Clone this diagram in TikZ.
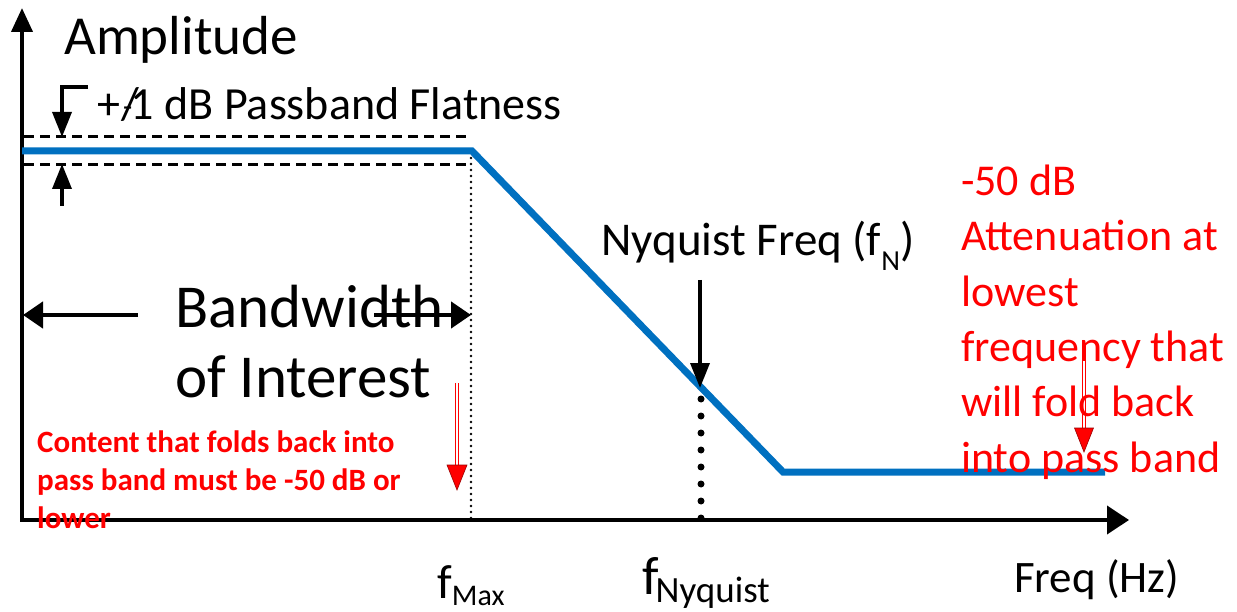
\documentclass[tikz,border=0pt]{standalone}
\usepackage{fontspec}
\setmainfont{Carlito}
\usetikzlibrary{arrows.meta}
\definecolor{curveblue}{HTML}{0070C0}
\definecolor{redtxt}{HTML}{FF0000}
\newcommand{\fsz}[2]{\fontsize{#1}{#2}\selectfont}
\begin{document}
\begin{tikzpicture}[x=1pt,y=-1pt,
  axisline/.style={line width=4pt, line join=miter,
     {Triangle[length=24pt,width=21pt]}-{Triangle[length=22pt,width=28pt]}},
  curve/.style={line width=7pt, curveblue, line join=miter},
  dashline/.style={line width=3pt, dash pattern=on 10pt off 6pt},
  thindots/.style={line width=2.6pt, line cap=round, dash pattern=on 0pt off 6pt},
  bigdots/.style={line width=7pt, line cap=round, dash pattern=on 0pt off 17pt},
  bwarrow/.style={line width=4.5pt, -{Triangle[length=20pt,width=26pt]}},
  smallarrow/.style={line width=3.5pt, line join=miter, -{Triangle[length=25pt,width=19pt]}},
  lbl/.style={inner sep=0pt, anchor=base west},
  redshaft/.style={line width=4.5pt, redtxt},
  redinner/.style={line width=1.2pt, white},
  redhead/.style={fill=redtxt, draw=red!60!black, line width=0.6pt},
]
\useasboundingbox (0,0) rectangle (1237,612);

% axes
\coordinate (ytop) at (22,8);
\coordinate (O) at (22,520);
\coordinate (xend) at (1129,520);
\draw[axisline] (ytop) -- (O) -- (xend);

% passband flatness dashed limits
\coordinate (dU0) at (24,137); \coordinate (dU1) at (471,137);
\coordinate (dL0) at (24,165); \coordinate (dL1) at (471,165);
\draw[dashline] (dU0) -- (dU1);
\draw[dashline] (dL0) -- (dL1);

% fmax dotted line
\coordinate (fm0) at (471,152); \coordinate (fm1) at (471,520);
\draw[thindots] (fm0) -- (fm1);

% filter response
\coordinate (c0) at (22,151);
\coordinate (c1) at (472,151);
\coordinate (c2) at (783,472);
\coordinate (c3) at (1105,472);
\draw[curve] (c0) -- (c1) -- (c2) -- (c3);

% flatness arrows
\coordinate (g0) at (88,87); \coordinate (g1) at (62,87); \coordinate (g2) at (62,137);
\draw[smallarrow] (g0) -- (g1) -- (g2);
\coordinate (u0) at (62,206); \coordinate (u1) at (62,164);
\draw[smallarrow] (u0) -- (u1);

% bandwidth arrows
\coordinate (bl0) at (138,315); \coordinate (bl1) at (23,315);
\coordinate (br0) at (374,315); \coordinate (br1) at (471,315);
\draw[bwarrow] (bl0) -- (bl1);
\draw[bwarrow] (br0) -- (br1);

% nyquist arrow and dotted line
\coordinate (n0) at (700,280); \coordinate (n1) at (700,388);
\draw[smallarrow] (n0) -- (n1);
\coordinate (nd0) at (701,399); \coordinate (nd1) at (701,520);
\draw[bigdots] (nd0) -- (nd1);

% red arrows
\coordinate (ra0) at (457,383); \coordinate (ra1) at (457,467);
\draw[redshaft] (ra0) -- (ra1);
\draw[redinner] ([yshift=2pt]ra0) -- ([yshift=2pt]ra1);
\filldraw[redhead] (447,465) -- (467,465) -- (457,490) -- cycle;
\coordinate (rb0) at (1084,345); \coordinate (rb1) at (1084,430);
\draw[redshaft] (rb0) -- (rb1);
\draw[redinner] ([yshift=2pt]rb0) -- ([yshift=2pt]rb1);
\filldraw[redhead] (1074.5,428) -- (1093.5,428) -- (1084,452) -- cycle;

% texts
\node[lbl, font=\fsz{55}{62}] (amp) at (64,55) {Amplitude};
\node[lbl, font=\fsz{46}{52}] (flat) at (97,120) {+\kern1pt\rlap{\kern2pt\fsz{30}{34}\raisebox{3pt}{-}}/\kern-8pt1 dB Passband Flatness};
\node[lbl, font=\fsz{61}{70}] (bw1) at (175,327) {Bandwidth};
\node[lbl, font=\fsz{61}{70}] (bw2) at (175,397) {of Interest};
\node[lbl, font=\fsz{47}{56}] (nyq) at (601,256) {Nyquist Freq (f\raisebox{-15pt}{\fsz{29}{34}N})};
\node[lbl, font=\fsz{44}{55.3}, text=redtxt, align=left] (att) at (961,472)
  {-50 dB\\Attenuation at\\lowest\\frequency that\\will fold back\\into pass band};
\node[lbl, font=\bfseries\fsz{31}{38}, text=redtxt, align=left] (fold) at (37,528)
  {Content that folds back into\\pass band must be -50 dB or\\lower};
\node[lbl, font=\fsz{48}{54}] (fmax) at (437,598) {f\kern0pt\raisebox{-7pt}{\fsz{30}{34}Max}};
\node[lbl, font=\fsz{54}{60}] (fnyq) at (642,594) {f\kern-3pt\raisebox{-8pt}{\fsz{37}{42}Nyquist}};
\node[lbl, font=\fsz{45}{52}] (freq) at (1014,592) {Freq (Hz)};
\end{tikzpicture}
\end{document}
